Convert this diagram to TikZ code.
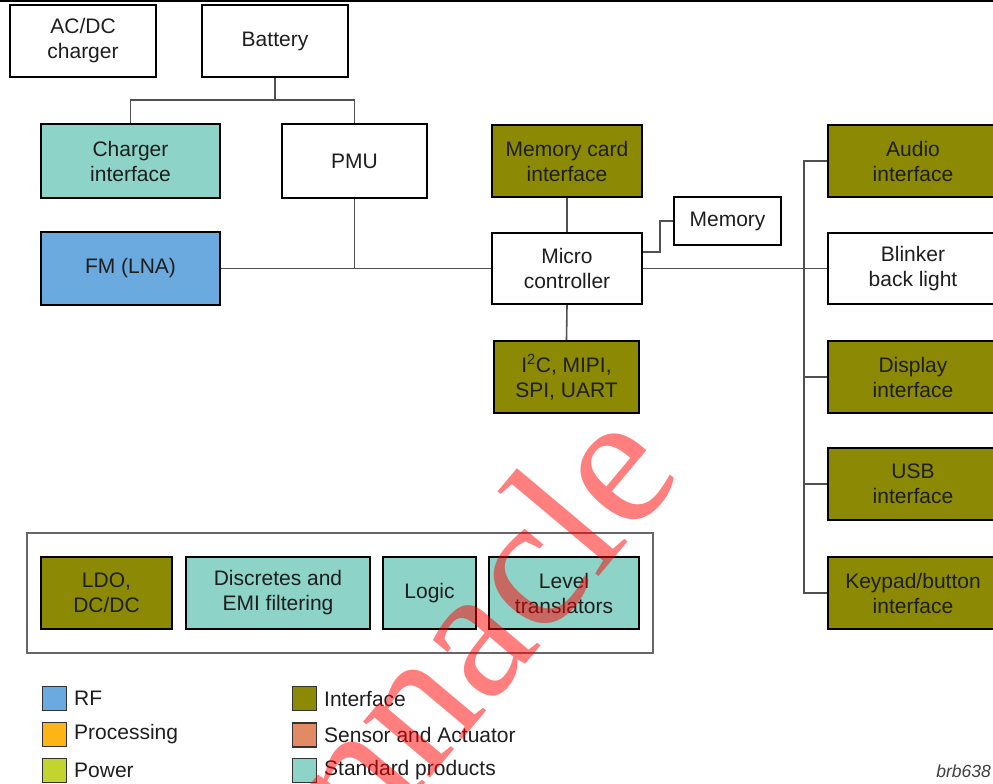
\documentclass[tikz,border=0pt]{standalone}
\usepackage{fontspec}
\setmainfont{Liberation Sans}
\newfontfamily\wmfont{Liberation Serif}
\definecolor{cteal}{HTML}{8DD3C7}
\definecolor{colive}{HTML}{8C8A04}
\definecolor{cblue}{HTML}{6AAADF}
\definecolor{corange}{HTML}{FDB515}
\definecolor{csalmon}{HTML}{E08B63}
\definecolor{clime}{HTML}{C3D42E}
\definecolor{ctext}{HTML}{1E1E1E}
\definecolor{cline}{HTML}{505050}
\begin{document}
\begin{tikzpicture}[x=1pt,y=-1pt,
  blk/.style={draw=black, line width=2.2pt, rectangle, align=center, inner sep=0pt,
    text=ctext, font=\fontsize{21}{25}\selectfont},
  wbox/.style={blk, fill=white},
  tbox/.style={blk, fill=cteal},
  obox/.style={blk, fill=colive},
  bbox/.style={blk, fill=cblue},
  conn/.style={draw=cline, line width=1.6pt},
  legsq/.style={draw=black!80, line width=1.6pt, minimum width=24pt, minimum height=24pt, inner sep=0pt},
  legtx/.style={anchor=west, text=ctext, font=\fontsize{21}{25}\selectfont, inner sep=0pt}]
\useasboundingbox (0,0) rectangle (993,784);
\clip (0,0) rectangle (993,784);
\fill[white] (0,0) rectangle (993,784);
\draw[line width=2.5pt, black] (0,1.25) -- (993,1.25);

% top row
\node[wbox, minimum width=146pt, minimum height=72pt] (acdc) at (83,41) {AC/DC\\charger};
\node[wbox, minimum width=146pt, minimum height=72pt] (battery) at (275,41) {Battery};

% left column
\node[tbox, minimum width=179pt, minimum height=74pt] (charger) at (130.5,161) {Charger\\interface};
\node[wbox, minimum width=145pt, minimum height=74pt] (pmu) at (354.5,161) {PMU};
\node[bbox, minimum width=179pt, minimum height=73pt] (fm) at (130.5,268.5) {FM (LNA)};

% centre column
\node[obox, minimum width=150pt, minimum height=72pt] (memcard) at (567,161) {Memory card\\interface};
\node[wbox, minimum width=150pt, minimum height=71pt] (mc) at (567,268.5) {Micro\\controller};
\node[wbox, minimum width=107pt, minimum height=48pt] (memory) at (727.5,221) {Memory};
\node[obox, minimum width=145pt, minimum height=72pt] (i2c) at (566.5,377) {I\textsuperscript{2}C, MIPI,\\SPI, UART};

% right column
\node[obox, minimum width=170pt, minimum height=72pt] (audio) at (913,161) {Audio\\interface};
\node[wbox, minimum width=170pt, minimum height=71pt] (blinker) at (913,268.5) {Blinker\\back light};
\node[obox, minimum width=170pt, minimum height=72pt] (display) at (913,377) {Display\\interface};
\node[obox, minimum width=170pt, minimum height=72pt] (usb) at (913,484) {USB\\interface};
\node[obox, minimum width=170pt, minimum height=72pt] (keypad) at (913,593) {Keypad/button\\interface};

% connectors
\coordinate (jb) at (275,100);
\draw[conn] (battery.south) -- (jb);
\draw[conn] (charger.north) |- (jb) -| (pmu.north);
\draw[conn] (fm.east) -- (mc.west);
\draw[conn] (pmu.south) -- (pmu.south |- fm.east);
\draw[conn] (memcard.south) -- (mc.north);
\draw[conn] (mc.south) -- (i2c.north);
\coordinate (mk) at (660,252);
\draw[conn] (mc.east |- mk) -- (mk) |- (memory.west);
\draw[conn] (mc.east) -- (blinker.west);
\coordinate (bx) at (804,0);
\draw[conn] (audio.west) -- (audio.west -| bx) -- (keypad.west -| bx) -- (keypad.west);
\draw[conn] (display.west -| bx) -- (display.west);
\draw[conn] (usb.west -| bx) -- (usb.west);

% standard parts group
\node[draw=black!60, line width=1.5pt, minimum width=626pt, minimum height=120pt, inner sep=0pt] (group) at (340,593) {};
\node[obox, minimum width=131pt, minimum height=72pt] (ldo) at (106.5,593) {LDO,\\DC/DC};
\node[tbox, minimum width=184pt, minimum height=72pt] (disc) at (278,593) {Discretes and\\EMI filtering};
\node[tbox, minimum width=93pt, minimum height=72pt] (logic) at (429.5,593) {Logic};
\node[tbox, minimum width=150pt, minimum height=72pt] (level) at (564,593) {Level\\translators};

% legend
\node[legsq, fill=cblue] (lrf) at (54.5,698.5) {};
\node[legtx] (trf) at (74,698.5) {RF};
\node[legsq, fill=corange] (lproc) at (54.5,734.5) {};
\node[legtx] (tproc) at (74,734.5) {Processing};
\node[legsq, fill=clime] (lpow) at (54.5,770.5) {};
\node[legtx] (tpow) at (74,770.5) {Power};
\node[legsq, fill=colive] (lint) at (304.5,698.5) {};
\node[legtx] (tint) at (324,698.5) {Interface};
\node[legsq, fill=csalmon] (lsen) at (304.5,735) {};
\node[legtx] (tsen) at (324,735) {Sensor and Actuator};
\node[legsq, fill=cteal] (lstd) at (304.5,770.5) {};
\node[legtx] (tstd) at (324,770.5) {Standard products};

\node[anchor=base east, inner sep=0pt, text=black!75, font=\fontsize{17.5}{20}\selectfont\itshape] (code) at (991,777) {brb638};

% watermark
\node[rotate=50, anchor=base west, inner sep=0pt, text=red, opacity=0.5,
  font=\wmfont\fontsize{190}{190}\selectfont] (wm) at (366,854) {nnacle};
\end{tikzpicture}
\end{document}
